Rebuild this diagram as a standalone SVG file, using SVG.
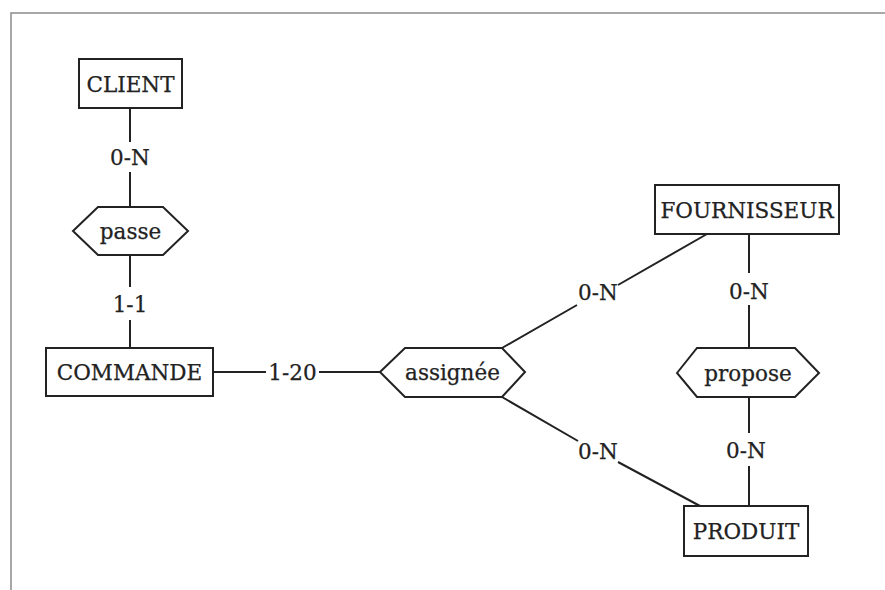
<svg xmlns="http://www.w3.org/2000/svg" width="885" height="590" viewBox="0 0 885 590">
  <style>
    .frame { fill: none; stroke: #8a8a8a; stroke-width: 1.5; }
    .box { fill: #ffffff; stroke: #222; stroke-width: 2; }
    .link { fill: none; stroke: #222; stroke-width: 2; }
    text { font-family: "DejaVu Serif", "Liberation Serif", serif; font-size: 21.5px; fill: #222; stroke: #222; stroke-width: 0.25; text-anchor: middle; dominant-baseline: central; }
  </style>
  <rect width="885" height="590" fill="#ffffff"/>
  <!-- page border -->
  <path class="frame" d="M11 590 V13 H885"/>

  <!-- connectors -->
  <g id="connectors">
    <!-- CLIENT - passe -->
    <path class="link" d="M130 108 V142 M130 172 V207"/>
    <text x="130" y="157">0-N</text>
    <!-- passe - COMMANDE -->
    <path class="link" d="M130 255 V287 M130 320 V348"/>
    <text x="130" y="304">1-1</text>
    <!-- COMMANDE - assignée -->
    <path class="link" d="M213 372 H266 M319 372 H380"/>
    <text x="292.5" y="372">1-20</text>
    <!-- assignée - FOURNISSEUR -->
    <path class="link" d="M502 348 L577 305 M618 285 L707 234"/>
    <text x="598" y="292">0-N</text>
    <!-- assignée - PRODUIT -->
    <path class="link" d="M502 397 L578 441 M618 462 L700 506"/>
    <text x="598" y="451">0-N</text>
    <!-- FOURNISSEUR - propose -->
    <path class="link" d="M749 234 V273 M749 305 V348"/>
    <text x="749" y="291">0-N</text>
    <!-- propose - PRODUIT -->
    <path class="link" d="M749 397 V433 M749 466 V506"/>
    <text x="746" y="450">0-N</text>
  </g>

  <!-- entities -->
  <g id="client">
    <rect class="box" x="79" y="59" width="103" height="49"/>
    <text x="130.5" y="84">CLIENT</text>
  </g>
  <g id="commande">
    <rect class="box" x="46" y="348" width="167" height="48"/>
    <text x="129.5" y="372">COMMANDE</text>
  </g>
  <g id="fournisseur">
    <rect class="box" x="655" y="185" width="184" height="49"/>
    <text x="747" y="210">FOURNISSEUR</text>
  </g>
  <g id="produit">
    <rect class="box" x="684" y="506" width="124" height="50"/>
    <text x="746" y="531">PRODUIT</text>
  </g>

  <!-- associations -->
  <g id="passe">
    <polygon class="box" points="73,231 98,207 163,207 188,231 163,255 98,255"/>
    <text x="130.5" y="231">passe</text>
  </g>
  <g id="assignee">
    <polygon class="box" points="380,372 405,348 502,348 525,372 502,397 405,397"/>
    <text x="452.5" y="372">assignée</text>
  </g>
  <g id="propose">
    <polygon class="box" points="677,373 697,348 795,348 819,373 795,397 697,397"/>
    <text x="748" y="373">propose</text>
  </g>
</svg>
